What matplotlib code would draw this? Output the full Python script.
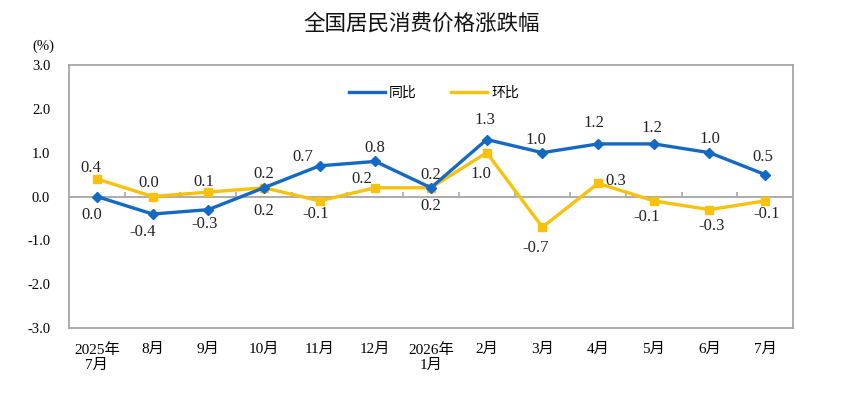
import matplotlib
matplotlib.use("Agg")
import matplotlib.pyplot as plt
import numpy as np

plt.rcParams['font.family'] = ['Liberation Serif', 'Noto Sans CJK SC', 'DejaVu Sans']

categories = ["2025年\n7月", "8月", "9月", "10月", "11月", "12月", "2026年\n1月",
              "2月", "3月", "4月", "5月", "6月", "7月"]
yoy = [0.0, -0.4, -0.3, 0.2, 0.7, 0.8, 0.2, 1.3, 1.0, 1.2, 1.2, 1.0, 0.5]
mom = [0.4, 0.0, 0.1, 0.2, -0.1, 0.2, 0.2, 1.0, -0.7, 0.3, -0.1, -0.3, -0.1]
yticks = [-3.0, -2.0, -1.0, 0.0, 1.0, 2.0, 3.0]

# label placement: (dx points, dy points)
yoy_off = [(-3.6, -13), (-7, -13), (-3, -10), (0, -17), (-12, 6), (0, 10), (0, 9.4),
           (-1.4, 13.7), (-5, 9.4), (-3, 15), (-1.4, 11.5), (0, 10), (-2, 13)]
mom_off = [(-4.3, 8), (-3, 10), (-3, 7), (0, 10), (-3, -9.4), (-10, 6), (0, -13),
           (-4.3, -15), (-5, -15), (13, 2), (-5, -11.5), (1.4, -12), (0.7, -9.4)]

BLUE = '#1369C3'
YEL = '#F8C20C'
GRAY = '#A6A6A6'

fig = plt.figure(figsize=(8.43, 4.05), dpi=100)
ax = fig.add_axes([69/843, 1-328/405, (793-69)/843, (328-65)/405])

x = np.arange(len(categories))
ax.plot(x, yoy, color=BLUE, lw=2.4, marker='D', ms=5.5, label='同比', zorder=4)
ax.plot(x, mom, color=YEL, lw=2.4, marker='s', ms=5.5, label='环比', zorder=3)

for xi, v, (dx, dy) in zip(x, yoy, yoy_off):
    ax.annotate(f"{v:.1f}", (xi, v), xytext=(dx, dy), textcoords='offset points',
                ha='center', va='center', fontsize=12, color='#222222')
for xi, v, (dx, dy) in zip(x, mom, mom_off):
    ax.annotate(f"{v:.1f}", (xi, v), xytext=(dx, dy), textcoords='offset points',
                ha='center', va='center', fontsize=12, color='#222222')

ax.set_xlim(-0.5, len(categories) - 0.5)
ax.set_ylim(yticks[0], yticks[-1])
ax.set_yticks(yticks)
ax.set_yticklabels([f"{t:.1f}" for t in yticks], fontsize=10.5)
ax.set_xticks(x)
ax.set_xticklabels(categories, fontsize=11, linespacing=1.15)
ax.tick_params(axis='both', length=0)
ax.tick_params(axis='y', pad=13.5)
ax.tick_params(axis='x', pad=11)

for s in ax.spines.values():
    s.set_color(GRAY)
    s.set_linewidth(1.3)

ax.axhline(0, color=GRAY, lw=1.3, zorder=1)
ax.vlines(x[:-1] + 0.5, 0, 0.1, color=GRAY, lw=1.2, zorder=1)

leg = ax.legend(loc='upper center', bbox_to_anchor=(0.504, 0.97), ncol=2, frameon=False,
                handlelength=2.6, columnspacing=2.5, handletextpad=0.3,
                prop={'family': ['Noto Sans CJK SC'], 'size': 10})
for h in leg.legend_handles:
    h.set_marker('')

fig.text(422/843, 1-24/405, "全国居民消费价格涨跌幅", ha='center', va='center',
         fontsize=15.5, family=['Noto Sans CJK SC'], color='#111111')
fig.text(43/843, 1-46/405, "(%)", ha='center', va='center', fontsize=10.5)

fig.savefig("out.png", dpi=100)
